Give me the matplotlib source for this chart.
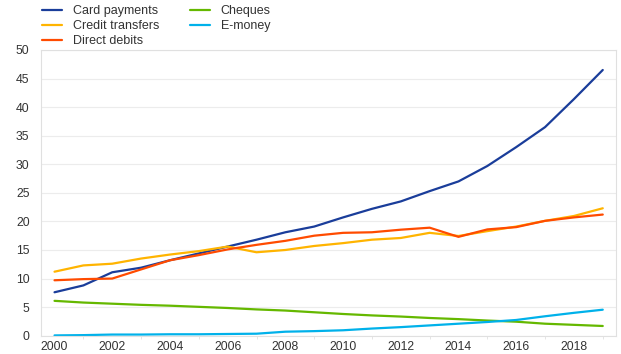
import matplotlib
matplotlib.use("Agg")
import matplotlib.pyplot as plt

years = list(range(2000, 2020))
card_payments = [7.6, 8.8, 11.1, 11.9, 13.2, 14.4, 15.6, 16.8, 18.1, 19.1,
                 20.7, 22.2, 23.5, 25.3, 27.0, 29.7, 33.0, 36.5, 41.4, 46.5]
credit_transfers = [11.2, 12.3, 12.6, 13.5, 14.2, 14.8, 15.6, 14.6, 15.0, 15.7,
                    16.2, 16.8, 17.1, 18.0, 17.45, 18.3, 19.1, 20.1, 20.95, 22.3]
direct_debits = [9.7, 9.9, 10.0, 11.6, 13.2, 14.1, 15.1, 15.9, 16.6, 17.5,
                 18.0, 18.1, 18.55, 18.9, 17.3, 18.6, 19.0, 20.1, 20.7, 21.2]
cheques = [6.1, 5.8, 5.6, 5.4, 5.25, 5.05, 4.85, 4.6, 4.4, 4.1,
           3.8, 3.55, 3.35, 3.1, 2.9, 2.65, 2.45, 2.1, 1.9, 1.7]
e_money = [0.05, 0.1, 0.2, 0.2, 0.25, 0.25, 0.3, 0.35, 0.7, 0.8,
           0.95, 1.25, 1.5, 1.8, 2.1, 2.4, 2.75, 3.4, 4.0, 4.55]

plt.rcParams['font.family'] = ['Liberation Sans', 'DejaVu Sans']

fig = plt.figure(figsize=(6.21, 3.54), dpi=100)
ax = fig.add_axes([0.0655, 0.0517, 0.9265, 0.8071])

series = [
    ("Card payments", card_payments, "#1a3d9a"),
    ("Credit transfers", credit_transfers, "#ffb400"),
    ("Direct debits", direct_debits, "#ff4b00"),
    ("Cheques", cheques, "#65b800"),
    ("E-money", e_money, "#00b1ea"),
]
for name, vals, col in series:
    ax.plot(years, vals, color=col, lw=1.6, label=name, solid_capstyle='round')

ax.set_xlim(1999.52, 2019.46)
ax.set_ylim(0, 50)
ax.set_yticks(range(0, 51, 5))
ax.set_xticks(range(2000, 2019, 2))
ax.set_xticks(range(2000, 2020), minor=True)
ax.grid(axis='y', color='#ececec', lw=0.8)
ax.set_axisbelow(True)
for s in ax.spines.values():
    s.set_color('#e0e0e0')
    s.set_linewidth(0.8)
ax.tick_params(axis='both', which='both', length=0, labelsize=8.8, colors='#333333')
ax.tick_params(axis='x', which='minor', length=2, color='#e0e0e0', bottom=True)
ax.tick_params(axis='y', pad=8)
ax.tick_params(axis='x', pad=4)

fig.legend(loc='upper left', bbox_to_anchor=(0.050, 1.018), ncol=2, frameon=False,
           fontsize=9, handlelength=1.6, columnspacing=2.4, labelspacing=0.25,
           handletextpad=0.88, labelcolor='#333333')

fig.savefig("out.png", dpi=100)
